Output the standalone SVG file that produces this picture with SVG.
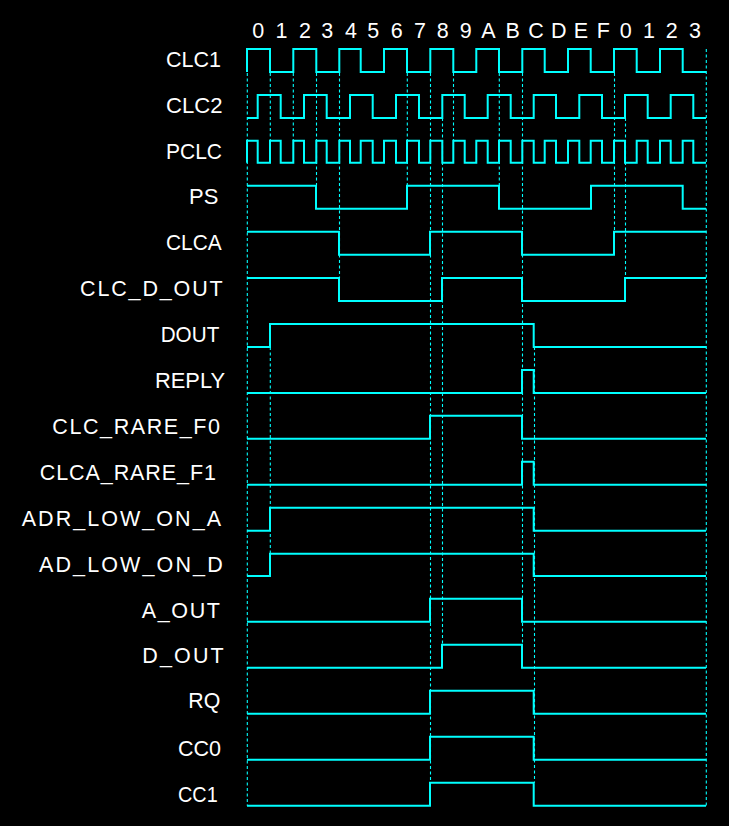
<svg xmlns="http://www.w3.org/2000/svg" width="729" height="826" viewBox="0 0 729 826">
<style>
.bg{fill:#000}
.lbl{fill:#fff;font-family:"Liberation Sans",Arial,sans-serif;font-size:21.5px}
.num{fill:#fff;font-family:"Liberation Sans",Arial,sans-serif;font-size:21.5px;text-anchor:middle}
.w{fill:none;stroke:#00ffff;stroke-width:2;stroke-linejoin:miter}
.g{fill:none;stroke:#00ffff;stroke-width:1.1;stroke-dasharray:3 2.5}
</style>
<rect class="bg" x="0" y="0" width="729" height="826"/>
<g id="time-axis">
<text class="num" x="258.3" y="38.3">0</text>
<text class="num" x="281.5" y="38.3">1</text>
<text class="num" x="305" y="38.3">2</text>
<text class="num" x="327.3" y="38.3">3</text>
<text class="num" x="351" y="38.3">4</text>
<text class="num" x="373.3" y="38.3">5</text>
<text class="num" x="396.7" y="38.3">6</text>
<text class="num" x="420" y="38.3">7</text>
<text class="num" x="442.7" y="38.3">8</text>
<text class="num" x="465.7" y="38.3">9</text>
<text class="num" x="488.3" y="38.3">A</text>
<text class="num" x="512.7" y="38.3">B</text>
<text class="num" x="536" y="38.3">C</text>
<text class="num" x="558.7" y="38.3">D</text>
<text class="num" x="581" y="38.3">E</text>
<text class="num" x="603.3" y="38.3">F</text>
<text class="num" x="625.7" y="38.3">0</text>
<text class="num" x="649" y="38.3">1</text>
<text class="num" x="671.7" y="38.3">2</text>
<text class="num" x="695" y="38.3">3</text>
</g>
<g id="connectors">
<path class="g" d="M247.3,73V805.7"/>
<path class="g" d="M270.3,73V140.7M270.3,347V553.7"/>
<path class="g" d="M293.3,73V140.7"/>
<path class="g" d="M316.5,73V185.7"/>
<path class="g" d="M339.5,73V278"/>
<path class="g" d="M407.3,73V185.7"/>
<path class="g" d="M430.5,73V782.7"/>
<path class="g" d="M442.5,118V644.7"/>
<path class="g" d="M453.5,73V140.7"/>
<path class="g" d="M499.3,73V185.7"/>
<path class="g" d="M522.5,73V644.7"/>
<path class="g" d="M534.5,347V782.7"/>
<path class="g" d="M614.5,73V231.7"/>
<path class="g" d="M625.5,118V278"/>
<path class="g" d="M706.3,49V805.7"/>
</g>
<g id="CLC1">
<text class="lbl" x="166" y="67" textLength="55" lengthAdjust="spacingAndGlyphs">CLC1</text>
<path class="w" d="M247,72V49H270V72H293.3V49H316.3V72H339.3V49H360.7V72H384V49H407V72H430.3V49H453.3V72H476.3V49H499V72H522.3V49H544.7V72H568V49H590.7V72H614V49H636.7V72H660V49H682.7V72H706"/>
</g>
<g id="CLC2">
<text class="lbl" x="166" y="113" textLength="56.5" lengthAdjust="spacingAndGlyphs">CLC2</text>
<path class="w" d="M247,118H257.7V95H280.7V118H304V95H326.7V118H350V95H372.7V118H396V95H419V118H442.3V95H464.7V118H487.7V95H510.7V118H533.7V95H556V118H579.3V95H602V118H625V95H647.7V118H670.7V95H693.3V118H706"/>
</g>
<g id="PCLC">
<text class="lbl" x="166" y="159" textLength="56" lengthAdjust="spacingAndGlyphs">PCLC</text>
<path class="w" d="M247,162.7V140.7H257.7V162.7H270V140.7H280.7V162.7H293.3V140.7H304V162.7H316.3V140.7H326.7V162.7H339.3V140.7H350V162.7H360.7V140.7H372.7V162.7H384V140.7H396V162.7H407V140.7H419V162.7H430.3V140.7H442.3V162.7H453.3V140.7H464.7V162.7H476.3V140.7H487.7V162.7H499V140.7H510.7V162.7H522.3V140.7H533.7V162.7H544.7V140.7H556V162.7H568V140.7H579.3V162.7H590.7V140.7H602V162.7H614V140.7H625V162.7H636.7V140.7H647.7V162.7H660V140.7H670.7V162.7H682.7V140.7H693.3V162.7H706"/>
</g>
<g id="PS">
<text class="lbl" x="189" y="204" textLength="29.3" lengthAdjust="spacingAndGlyphs">PS</text>
<path class="w" d="M247,185.7H316V208.7H407V185.7H499V208.7H591V185.7H682.7V208.7H706"/>
</g>
<g id="CLCA">
<text class="lbl" x="166" y="250" textLength="55.7" lengthAdjust="spacingAndGlyphs">CLCA</text>
<path class="w" d="M247,231.7H339V254.7H430V231.7H522V254.7H614V231.7H706"/>
</g>
<g id="CLC_D_OUT">
<text class="lbl" x="80" y="295.5" textLength="142.7" lengthAdjust="spacing">CLC_D_OUT</text>
<path class="w" d="M247,278H339V301H442V278H522V301H625V278H706"/>
</g>
<g id="DOUT">
<text class="lbl" x="160.7" y="341.7" textLength="58.6" lengthAdjust="spacingAndGlyphs">DOUT</text>
<path class="w" d="M247,347H270V324H533.7V347H706"/>
</g>
<g id="REPLY">
<text class="lbl" x="155" y="388.3" textLength="70" lengthAdjust="spacingAndGlyphs">REPLY</text>
<path class="w" d="M247,393H522V370H533.7V393H706"/>
</g>
<g id="CLC_RARE_F0">
<text class="lbl" x="52.3" y="434.3" textLength="167.7" lengthAdjust="spacing">CLC_RARE_F0</text>
<path class="w" d="M247,438.7H430V415.7H522V438.7H706"/>
</g>
<g id="CLCA_RARE_F1">
<text class="lbl" x="39.7" y="480" textLength="176.3" lengthAdjust="spacing">CLCA_RARE_F1</text>
<path class="w" d="M247,484.7H522V461.7H533.7V484.7H706"/>
</g>
<g id="ADR_LOW_ON_A">
<text class="lbl" x="21.7" y="526" textLength="199.3" lengthAdjust="spacing">ADR_LOW_ON_A</text>
<path class="w" d="M247,530.7H270V507.7H533.7V530.7H706"/>
</g>
<g id="AD_LOW_ON_D">
<text class="lbl" x="39" y="571.7" textLength="183.7" lengthAdjust="spacing">AD_LOW_ON_D</text>
<path class="w" d="M247,576H270V553.7H533.7V576H706"/>
</g>
<g id="A_OUT">
<text class="lbl" x="141.7" y="618.3" textLength="78.3" lengthAdjust="spacing">A_OUT</text>
<path class="w" d="M247,621.7H430V598.7H522V621.7H706"/>
</g>
<g id="D_OUT">
<text class="lbl" x="142.3" y="662.7" textLength="81.4" lengthAdjust="spacing">D_OUT</text>
<path class="w" d="M247,667.7H442V644.7H522V667.7H706"/>
</g>
<g id="RQ">
<text class="lbl" x="188.3" y="708.3" textLength="32" lengthAdjust="spacingAndGlyphs">RQ</text>
<path class="w" d="M247,713.7H430V690.7H533.7V713.7H706"/>
</g>
<g id="CC0">
<text class="lbl" x="178" y="755.7" textLength="43" lengthAdjust="spacingAndGlyphs">CC0</text>
<path class="w" d="M247,759.7H430V736.7H533.7V759.7H706"/>
</g>
<g id="CC1">
<text class="lbl" x="178" y="801.7" textLength="39.7" lengthAdjust="spacingAndGlyphs">CC1</text>
<path class="w" d="M247,805.7H430V782.7H533.7V805.7H706"/>
</g>
</svg>
